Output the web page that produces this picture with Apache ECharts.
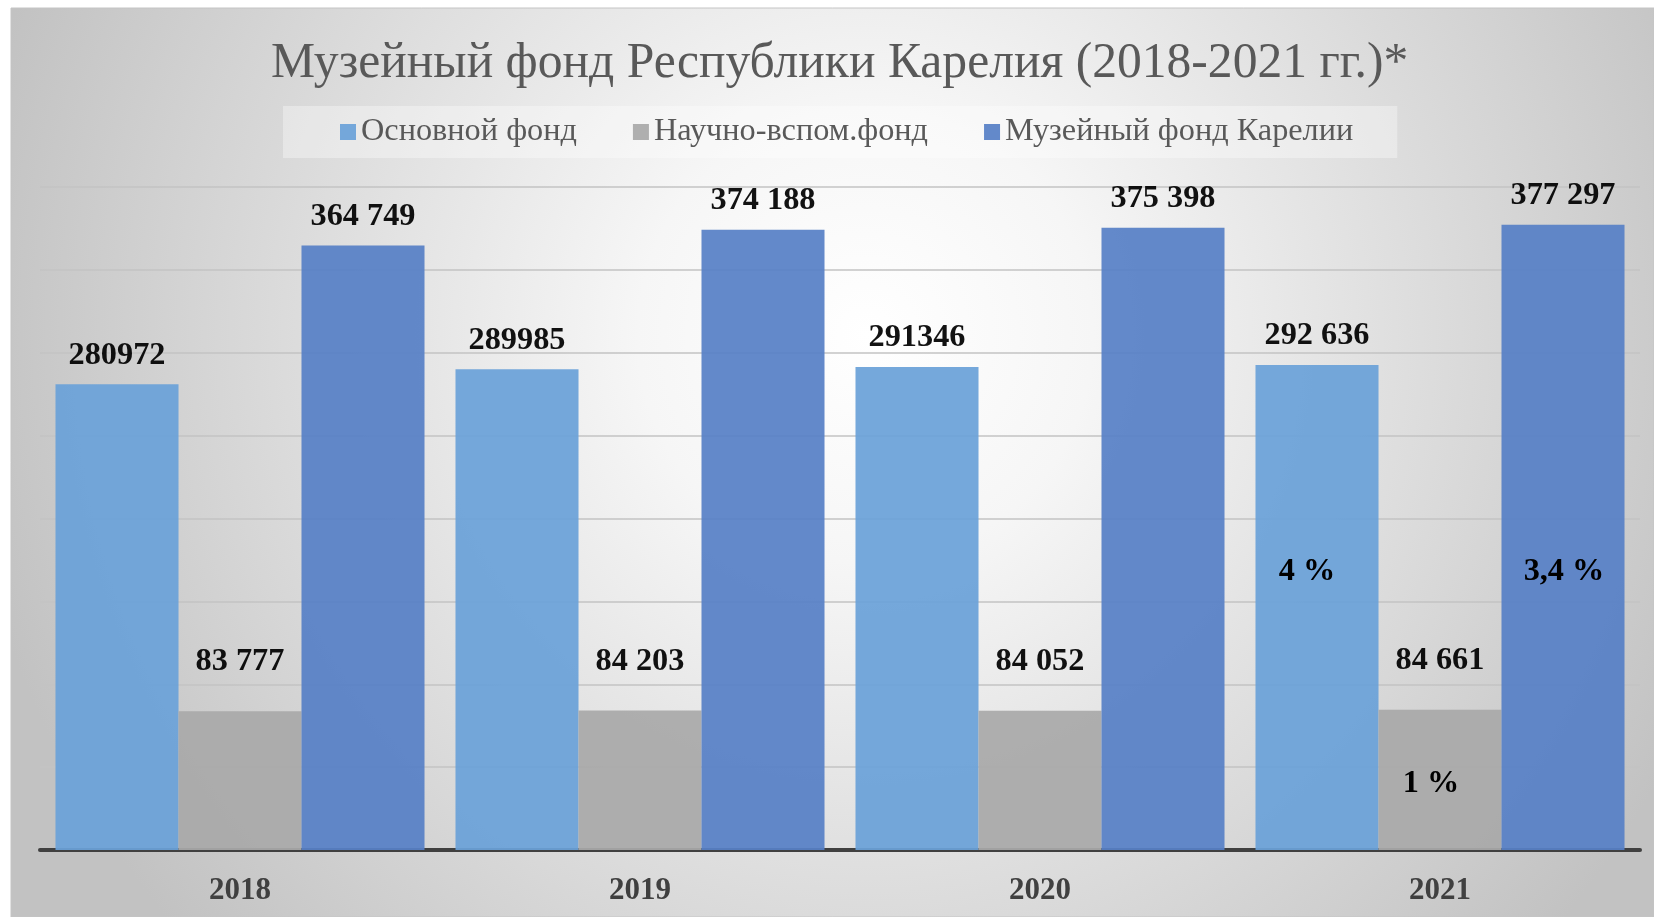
<!DOCTYPE html>
<html>
<head>
<meta charset="utf-8">
<script src="https://cdn.jsdelivr.net/npm/echarts@6/dist/echarts.min.js"></script>
<style>
html,body{margin:0;padding:0;background:#ffffff;}
#chart{width:1654px;height:917px;}
</style>
</head>
<body>
<div id="chart"></div>
<script>
// ---- data ----
var titleText = 'Музейный фонд Республики Карелия (2018-2021 гг.)*';
var categories = ['2018', '2019', '2020', '2021'];
var seriesNames = ['Основной фонд', 'Научно-вспом.фонд', 'Музейный фонд Карелии'];
var osnovValues = [280972, 289985, 291346, 292636];
var nauchValues = [83777, 84203, 84052, 84661];
var totalValues = [364749, 374188, 375398, 377297];
var osnovLabels = ['280972', '289985', '291346', '292 636'];
var nauchLabels = ['83 777', '84 203', '84 052', '84 661'];
var totalLabels = ['364 749', '374 188', '375 398', '377 297'];
// growth annotations: [seriesIndex, category, anchor value, text]
var annotations = [
  [0, '2021', 167700, '4 %'],
  [1, '2021', 39800, '1 %'],
  [2, '2021', 167700, '3,4 %']
];
var yMin = 0, yMax = 400000, yInterval = 50000;

// ---- styles ----
var FONT = '"Liberation Serif", "Times New Roman", serif';
var colors = ['#6aa1d8', '#a9a9a9', '#5780c6'];
var labelSets = [osnovLabels, nauchLabels, totalLabels];
var valueSets = [osnovValues, nauchValues, totalValues];
var labelDistance = [13, 33, 13];
var annOffset = [[-10, 0], [-9, 0], [1, 0]];

var chart = echarts.init(document.getElementById('chart'), null, {renderer: 'canvas'});

var series = valueSets.map(function (vals, si) {
  var anns = annotations.filter(function (a) { return a[0] === si; });
  var s = {
    name: seriesNames[si],
    type: 'bar',
    data: vals,
    barWidth: 123,
    barGap: '0%',
    itemStyle: {color: colors[si], opacity: 0.93},
    label: {
      show: true,
      position: 'top',
      distance: labelDistance[si],
      fontFamily: FONT,
      fontSize: 32.3,
      fontWeight: 'bold',
      color: '#000000',
      formatter: function (p) { return labelSets[si][p.dataIndex]; }
    },
    emphasis: {disabled: true},
    silent: true
  };
  if (anns.length) {
    s.markPoint = {
      silent: true,
      symbol: 'rect',
      symbolSize: 1,
      itemStyle: {color: 'rgba(0,0,0,0)'},
      label: {
        show: true,
        position: 'inside',
        offset: annOffset[si],
        fontFamily: FONT,
        fontSize: 32.3,
        fontWeight: 'bold',
        color: '#000000'
      },
      data: anns.map(function (a) {
        return {coord: [a[1], a[2]], value: a[3],
          label: {formatter: a[3]}};
      })
    };
  }
  return s;
});

var option = {
  animation: false,
  graphic: [{
    type: 'rect',
    z: -10,
    silent: true,
    shape: {x: 11, y: 8, width: 1643, height: 909},
    style: {
      fill: new echarts.graphic.RadialGradient(0.52, 0.36, 1.0, [
        {offset: 0, color: '#ffffff'},
        {offset: 0.25, color: '#f6f6f6'},
        {offset: 1, color: '#c2c2c2'}
      ]),
      stroke: '#c4c4c4',
      lineWidth: 1
    }
  }],
  title: {
    text: titleText,
    left: 266,
    top: 34,
    textStyle: {
      fontFamily: FONT,
      fontSize: 49.6,
      fontWeight: 'normal',
      color: '#595959'
    }
  },
  legend: {
    left: 283,
    top: 106,
    padding: [10, 44, 10, 57],
    backgroundColor: 'rgba(255,255,255,0.35)',
    itemWidth: 16,
    itemHeight: 16,
    itemGap: 56,
    icon: 'rect',
    selectedMode: false,
    textStyle: {fontFamily: FONT, fontSize: 32.3, color: '#595959'},
    data: seriesNames
  },
  grid: {left: 40, right: 14, top: 187, bottom: 67},
  xAxis: {
    type: 'category',
    data: categories,
    axisLine: {show: true, lineStyle: {color: '#404040', width: 4}},
    axisTick: {show: false},
    axisLabel: {
      margin: 25,
      fontFamily: FONT,
      fontSize: 31,
      fontWeight: 'bold',
      color: '#404040'
    }
  },
  yAxis: {
    type: 'value',
    min: yMin,
    max: yMax,
    interval: yInterval,
    axisLine: {show: false},
    axisTick: {show: false},
    axisLabel: {show: false},
    splitLine: {show: true, lineStyle: {color: '#c3c3c3', width: 1.5}}
  },
  series: series
};
chart.setOption(option);
</script>
</body>
</html>
